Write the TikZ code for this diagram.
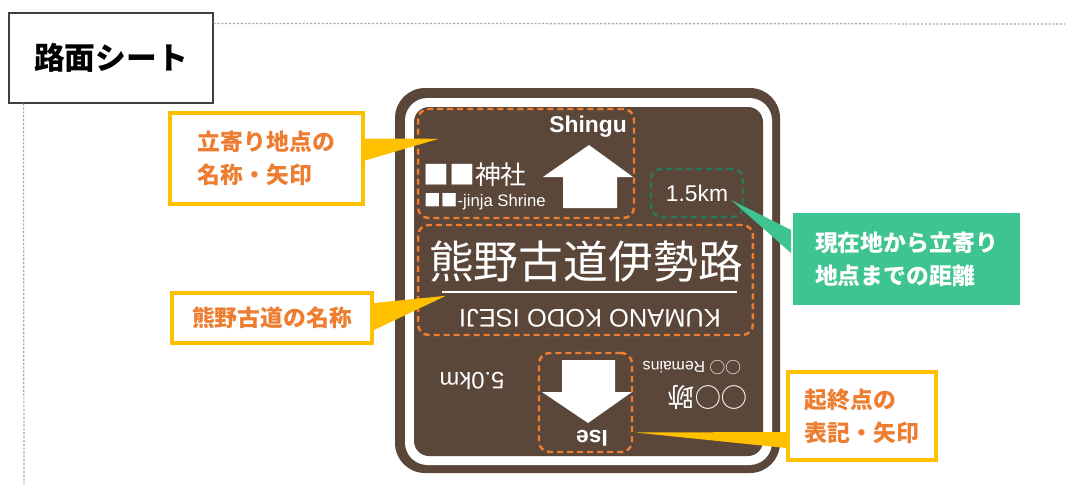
\documentclass[tikz,border=0pt]{standalone}
\usepackage{fontspec}
\setmainfont{Liberation Sans}
\newfontfamily\jp{Noto Sans CJK JP}
\usetikzlibrary{calc}

\definecolor{signbrown}{RGB}{91,71,58}
\definecolor{dashorange}{RGB}{237,125,49}
\definecolor{dashgreen}{RGB}{38,122,90}
\definecolor{callyellow}{RGB}{255,192,0}
\definecolor{callgreen}{RGB}{62,196,145}

\tikzset{
  callout/.style={draw=callyellow,line width=2.3pt,fill=white,text=dashorange,
    font=\jp\bfseries\fontsize{13}{18.7}\selectfont,align=left,inner sep=0pt},
  guide/.style={gray!70,line width=0.7pt,dash pattern=on 1.2pt off 1pt},
  markbox/.style={draw=dashorange,line width=1.4pt,dash pattern=on 3.4pt off 2.3pt,
    rounded corners=6pt,inner sep=0pt},
  signtext/.style={text=white,inner sep=0pt}
}

\begin{document}
\begin{tikzpicture}[x=0.02cm,y=-0.02cm]
      \useasboundingbox (0,0) rectangle (1065,484);
      \node[draw=black!75,line width=0.7pt,minimum width=4.08cm,minimum height=1.8cm,
        font=\jp\bfseries\fontsize{17.5}{20}\selectfont] (title) at (111,58) {路面シート};
      \draw[guide] ($(title.north east)+(0,11)$) -- (1065,24);
      \draw[guide] ($(title.south west)+(15,0)$) -- (24,484);
      \fill[signbrown,rounded corners=0.6cm] (395,88) rectangle (780,473);
      \fill[white,rounded corners=0.45cm] (405,98) rectangle (772,465);
      \fill[signbrown,rounded corners=0.3cm] (414,107) rectangle (763,456);
      \node[markbox,minimum width=4.32cm,minimum height=2.18cm] (stopbox) at (526,163.5) {};
      \node[markbox,minimum width=6.7cm,minimum height=2.2cm] (namebox) at (585.5,280) {};
      \node[markbox,minimum width=1.86cm,minimum height=1.98cm] (endbox) at (585.5,402.5) {};
      \node[markbox,draw=dashgreen,signtext,minimum width=1.84cm,minimum height=0.96cm,
        font=\fontsize{13}{15}\selectfont] (distbox) at (697,193) {1.5km};
      \fill[white] (563,208) -- (563,177) -- (543,177) -- (589,145) -- (633,177) -- (617,177) -- (617,208) -- cycle;
      \fill[white] (562,360) -- (615,360) -- (615,392) -- (632,392) -- (588,423) -- (542,392) -- (562,392) -- cycle;
      \node[signtext,font=\bfseries\fontsize{13}{15}\selectfont] (shingu) at (588,127) {Shingu};
      \node[signtext,font=\jp\fontsize{14.7}{16}\selectfont] (shrine) at (475,175) {■■神社};
      \node[signtext,font=\fontsize{9.5}{11}\selectfont] (shrineen) at (485,202) {{\jp ■■}-jinja Shrine};
      \node[signtext,font=\jp\fontsize{25.5}{28}\selectfont] (route) at (586,262) {熊野古道伊勢路};
      \draw[white,line width=1pt] (442,292) -- (737,292);
      \node[signtext,rotate=180,font=\fontsize{14.5}{16}\selectfont] (routeen) at (590,318) {KUMANO KODO ISEJI};
      \node[signtext,rotate=180,font=\bfseries\fontsize{13}{15}\selectfont] (ise) at (592,438) {Ise};
      \node[signtext,rotate=180,font=\fontsize{13.5}{15}\selectfont] (enddist) at (472,381) {5.0km};
      \node[signtext,rotate=180,font=\fontsize{9}{11}\selectfont] (ruinsen) at (692,368) {{\jp ○○} Remains};
      \node[signtext,rotate=180,font=\jp\fontsize{15}{17}\selectfont] (ruins) at (708,397) {○○跡};
      \node[callout,minimum width=3.86cm,minimum height=1.82cm] (c1) at (266.5,158.5) {立寄り地点の\\名称・矢印};
      \node[callout,minimum width=4cm,minimum height=1cm] (c2) at (272,318) {熊野古道の名称};
      \node[callout,minimum width=2.96cm,minimum height=1.76cm] (c3) at (862,416) {起終点の\\表記・矢印};
      \node[callout,draw=none,fill=callgreen,text=white,minimum width=4.54cm,minimum height=1.84cm] (c4) at (906.5,259) {現在地から立寄り\\地点までの距離};
      \coordinate (t1) at ($(stopbox.north west)+(22,31)$);
      \coordinate (t2) at ($(namebox.north west)+(29,72)$);
      \coordinate (t3) at ($(endbox.east)+(2,30)$);
      \coordinate (t4) at ($(distbox.east)+(-13,7)$);
      \fill[callyellow] ($(c1.east)+(0,-20)$) -- (t1) -- ($(c1.east)+(0,2)$) -- cycle;
      \fill[callyellow] ($(c2.east)+(0,-15)$) -- (t2) -- ($(c2.east)+(0,12)$) -- cycle;
      \fill[callyellow] ($(c3.west)+(0,16)$) -- (t3) -- ($(c3.west)+(0,32)$) -- cycle;
      \fill[callgreen] ($(c4.west)+(0,-29)$) -- (t4) -- ($(c4.west)+(0,-6)$) -- cycle;
    \end{tikzpicture}
\end{document}
